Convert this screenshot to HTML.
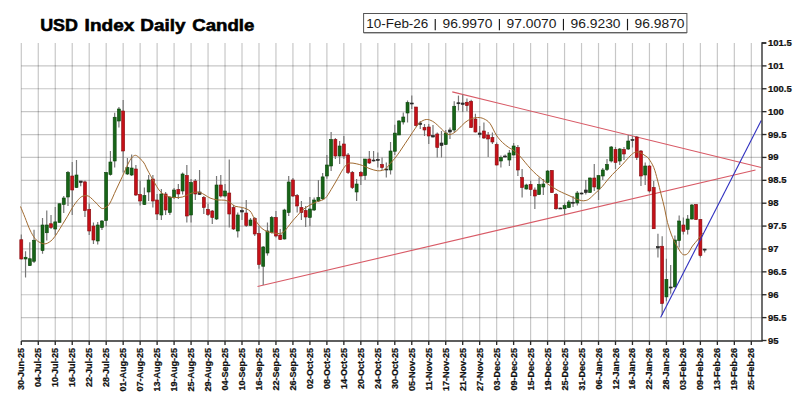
<!DOCTYPE html><html><head><meta charset="utf-8"><style>html,body{margin:0;padding:0;background:#fff;width:800px;height:400px;overflow:hidden}svg{display:block}</style></head><body>
<svg width="800" height="400" viewBox="0 0 800 400">
<rect width="800" height="400" fill="#fff"/>
<g stroke="#000" stroke-opacity="0.22" stroke-width="1.2" fill="none">
<line x1="21.30" y1="43" x2="21.30" y2="340.5"/>
<line x1="38.28" y1="43" x2="38.28" y2="340.5"/>
<line x1="55.25" y1="43" x2="55.25" y2="340.5"/>
<line x1="72.23" y1="43" x2="72.23" y2="340.5"/>
<line x1="89.21" y1="43" x2="89.21" y2="340.5"/>
<line x1="106.19" y1="43" x2="106.19" y2="340.5"/>
<line x1="123.16" y1="43" x2="123.16" y2="340.5"/>
<line x1="140.14" y1="43" x2="140.14" y2="340.5"/>
<line x1="157.12" y1="43" x2="157.12" y2="340.5"/>
<line x1="174.09" y1="43" x2="174.09" y2="340.5"/>
<line x1="191.07" y1="43" x2="191.07" y2="340.5"/>
<line x1="208.05" y1="43" x2="208.05" y2="340.5"/>
<line x1="225.02" y1="43" x2="225.02" y2="340.5"/>
<line x1="242.00" y1="43" x2="242.00" y2="340.5"/>
<line x1="258.98" y1="43" x2="258.98" y2="340.5"/>
<line x1="275.95" y1="43" x2="275.95" y2="340.5"/>
<line x1="292.93" y1="43" x2="292.93" y2="340.5"/>
<line x1="309.91" y1="43" x2="309.91" y2="340.5"/>
<line x1="326.89" y1="43" x2="326.89" y2="340.5"/>
<line x1="343.86" y1="43" x2="343.86" y2="340.5"/>
<line x1="360.84" y1="43" x2="360.84" y2="340.5"/>
<line x1="377.82" y1="43" x2="377.82" y2="340.5"/>
<line x1="394.79" y1="43" x2="394.79" y2="340.5"/>
<line x1="411.77" y1="43" x2="411.77" y2="340.5"/>
<line x1="428.75" y1="43" x2="428.75" y2="340.5"/>
<line x1="445.73" y1="43" x2="445.73" y2="340.5"/>
<line x1="462.70" y1="43" x2="462.70" y2="340.5"/>
<line x1="479.68" y1="43" x2="479.68" y2="340.5"/>
<line x1="496.66" y1="43" x2="496.66" y2="340.5"/>
<line x1="513.63" y1="43" x2="513.63" y2="340.5"/>
<line x1="530.61" y1="43" x2="530.61" y2="340.5"/>
<line x1="547.59" y1="43" x2="547.59" y2="340.5"/>
<line x1="564.56" y1="43" x2="564.56" y2="340.5"/>
<line x1="581.54" y1="43" x2="581.54" y2="340.5"/>
<line x1="598.52" y1="43" x2="598.52" y2="340.5"/>
<line x1="615.50" y1="43" x2="615.50" y2="340.5"/>
<line x1="632.47" y1="43" x2="632.47" y2="340.5"/>
<line x1="649.45" y1="43" x2="649.45" y2="340.5"/>
<line x1="666.43" y1="43" x2="666.43" y2="340.5"/>
<line x1="683.40" y1="43" x2="683.40" y2="340.5"/>
<line x1="700.38" y1="43" x2="700.38" y2="340.5"/>
<line x1="717.36" y1="43" x2="717.36" y2="340.5"/>
<line x1="734.33" y1="43" x2="734.33" y2="340.5"/>
<line x1="751.31" y1="43" x2="751.31" y2="340.5"/>
<line x1="21.30" y1="65.89" x2="762" y2="65.89"/>
<line x1="21.30" y1="88.77" x2="762" y2="88.77"/>
<line x1="21.30" y1="111.66" x2="762" y2="111.66"/>
<line x1="21.30" y1="134.54" x2="762" y2="134.54"/>
<line x1="21.30" y1="157.43" x2="762" y2="157.43"/>
<line x1="21.30" y1="180.31" x2="762" y2="180.31"/>
<line x1="21.30" y1="203.20" x2="762" y2="203.20"/>
<line x1="21.30" y1="226.08" x2="762" y2="226.08"/>
<line x1="21.30" y1="248.97" x2="762" y2="248.97"/>
<line x1="21.30" y1="271.85" x2="762" y2="271.85"/>
<line x1="21.30" y1="294.74" x2="762" y2="294.74"/>
<line x1="21.30" y1="317.62" x2="762" y2="317.62"/>
</g>
<g fill="none" stroke-width="1.1">
<line x1="452.25" y1="91.9" x2="761.25" y2="167.5" stroke="#d85a66"/>
<line x1="257.5" y1="286.5" x2="755.5" y2="170" stroke="#d85a66"/>
</g>
<g>
<line x1="21.30" y1="234.50" x2="21.30" y2="259.50" stroke="#777" stroke-width="1.2"/>
<rect x="19.80" y="239.75" width="3" height="19.25" fill="#c41018" stroke="#860a0e" stroke-width="0.6"/>
<line x1="25.54" y1="251.25" x2="25.54" y2="277.50" stroke="#777" stroke-width="1.2"/>
<rect x="24.04" y="257.25" width="3" height="1.75" fill="#176417" stroke="#0b440b" stroke-width="0.6"/>
<line x1="29.79" y1="242.25" x2="29.79" y2="266.00" stroke="#777" stroke-width="1.2"/>
<rect x="28.29" y="258.75" width="3" height="6.85" fill="#176417" stroke="#0b440b" stroke-width="0.6"/>
<line x1="34.03" y1="229.75" x2="34.03" y2="263.00" stroke="#777" stroke-width="1.2"/>
<rect x="32.53" y="240.25" width="3" height="21.00" fill="#176417" stroke="#0b440b" stroke-width="0.6"/>
<line x1="42.52" y1="218.00" x2="42.52" y2="253.75" stroke="#777" stroke-width="1.2"/>
<rect x="41.02" y="225.00" width="3" height="25.60" fill="#176417" stroke="#0b440b" stroke-width="0.6"/>
<line x1="46.77" y1="210.60" x2="46.77" y2="240.60" stroke="#777" stroke-width="1.2"/>
<rect x="45.27" y="225.00" width="3" height="7.75" fill="#176417" stroke="#0b440b" stroke-width="0.6"/>
<line x1="51.01" y1="215.00" x2="51.01" y2="229.00" stroke="#777" stroke-width="1.2"/>
<rect x="49.51" y="223.75" width="3" height="3.75" fill="#c41018" stroke="#860a0e" stroke-width="0.6"/>
<line x1="55.25" y1="206.90" x2="55.25" y2="235.60" stroke="#777" stroke-width="1.2"/>
<rect x="53.75" y="221.90" width="3" height="7.10" fill="#176417" stroke="#0b440b" stroke-width="0.6"/>
<line x1="59.50" y1="203.50" x2="59.50" y2="222.50" stroke="#777" stroke-width="1.2"/>
<rect x="58.00" y="203.75" width="3" height="18.75" fill="#176417" stroke="#0b440b" stroke-width="0.6"/>
<line x1="63.74" y1="196.00" x2="63.74" y2="213.00" stroke="#777" stroke-width="1.2"/>
<rect x="62.24" y="198.00" width="3" height="6.40" fill="#176417" stroke="#0b440b" stroke-width="0.6"/>
<line x1="67.99" y1="171.00" x2="67.99" y2="206.00" stroke="#777" stroke-width="1.2"/>
<rect x="66.49" y="172.50" width="3" height="24.50" fill="#176417" stroke="#0b440b" stroke-width="0.6"/>
<line x1="72.23" y1="162.00" x2="72.23" y2="215.00" stroke="#777" stroke-width="1.2"/>
<rect x="70.73" y="176.00" width="3" height="14.00" fill="#c41018" stroke="#860a0e" stroke-width="0.6"/>
<line x1="76.48" y1="160.00" x2="76.48" y2="188.00" stroke="#777" stroke-width="1.2"/>
<rect x="74.98" y="175.00" width="3" height="12.50" fill="#176417" stroke="#0b440b" stroke-width="0.6"/>
<line x1="80.72" y1="181.00" x2="80.72" y2="186.25" stroke="#777" stroke-width="1.2"/>
<rect x="79.22" y="181.00" width="3" height="1.50" fill="#333" stroke="#222" stroke-width="0.6"/>
<line x1="84.96" y1="180.60" x2="84.96" y2="216.90" stroke="#777" stroke-width="1.2"/>
<rect x="83.46" y="181.90" width="3" height="28.70" fill="#c41018" stroke="#860a0e" stroke-width="0.6"/>
<line x1="89.21" y1="203.75" x2="89.21" y2="235.00" stroke="#777" stroke-width="1.2"/>
<rect x="87.71" y="209.40" width="3" height="21.60" fill="#c41018" stroke="#860a0e" stroke-width="0.6"/>
<line x1="93.45" y1="222.50" x2="93.45" y2="244.00" stroke="#777" stroke-width="1.2"/>
<rect x="91.95" y="226.00" width="3" height="14.00" fill="#c41018" stroke="#860a0e" stroke-width="0.6"/>
<line x1="97.70" y1="222.00" x2="97.70" y2="244.50" stroke="#777" stroke-width="1.2"/>
<rect x="96.20" y="225.00" width="3" height="16.00" fill="#176417" stroke="#0b440b" stroke-width="0.6"/>
<line x1="101.94" y1="220.00" x2="101.94" y2="230.00" stroke="#777" stroke-width="1.2"/>
<rect x="100.44" y="221.00" width="3" height="6.50" fill="#176417" stroke="#0b440b" stroke-width="0.6"/>
<line x1="106.19" y1="172.00" x2="106.19" y2="226.00" stroke="#777" stroke-width="1.2"/>
<rect x="104.69" y="172.50" width="3" height="48.00" fill="#176417" stroke="#0b440b" stroke-width="0.6"/>
<line x1="110.43" y1="151.00" x2="110.43" y2="175.60" stroke="#777" stroke-width="1.2"/>
<rect x="108.93" y="162.00" width="3" height="12.50" fill="#176417" stroke="#0b440b" stroke-width="0.6"/>
<line x1="114.67" y1="112.75" x2="114.67" y2="167.50" stroke="#777" stroke-width="1.2"/>
<rect x="113.17" y="117.25" width="3" height="43.75" fill="#176417" stroke="#0b440b" stroke-width="0.6"/>
<line x1="118.92" y1="107.00" x2="118.92" y2="127.50" stroke="#777" stroke-width="1.2"/>
<rect x="117.42" y="109.00" width="3" height="12.00" fill="#176417" stroke="#0b440b" stroke-width="0.6"/>
<line x1="123.16" y1="100.00" x2="123.16" y2="172.50" stroke="#777" stroke-width="1.2"/>
<rect x="121.66" y="111.00" width="3" height="40.00" fill="#c41018" stroke="#860a0e" stroke-width="0.6"/>
<line x1="127.41" y1="158.00" x2="127.41" y2="175.00" stroke="#777" stroke-width="1.2"/>
<rect x="125.91" y="167.50" width="3" height="6.50" fill="#176417" stroke="#0b440b" stroke-width="0.6"/>
<line x1="131.65" y1="154.50" x2="131.65" y2="176.00" stroke="#777" stroke-width="1.2"/>
<rect x="130.15" y="168.00" width="3" height="7.00" fill="#176417" stroke="#0b440b" stroke-width="0.6"/>
<line x1="135.89" y1="165.00" x2="135.89" y2="196.00" stroke="#777" stroke-width="1.2"/>
<rect x="134.39" y="169.00" width="3" height="26.00" fill="#c41018" stroke="#860a0e" stroke-width="0.6"/>
<line x1="140.14" y1="181.00" x2="140.14" y2="205.50" stroke="#777" stroke-width="1.2"/>
<rect x="138.64" y="194.50" width="3" height="6.50" fill="#c41018" stroke="#860a0e" stroke-width="0.6"/>
<line x1="144.38" y1="187.50" x2="144.38" y2="205.00" stroke="#777" stroke-width="1.2"/>
<rect x="142.88" y="195.50" width="3" height="9.00" fill="#176417" stroke="#0b440b" stroke-width="0.6"/>
<line x1="148.63" y1="175.00" x2="148.63" y2="201.00" stroke="#777" stroke-width="1.2"/>
<rect x="147.13" y="180.00" width="3" height="12.00" fill="#176417" stroke="#0b440b" stroke-width="0.6"/>
<line x1="152.87" y1="175.00" x2="152.87" y2="207.50" stroke="#777" stroke-width="1.2"/>
<rect x="151.37" y="179.00" width="3" height="22.00" fill="#c41018" stroke="#860a0e" stroke-width="0.6"/>
<line x1="157.12" y1="194.00" x2="157.12" y2="220.00" stroke="#777" stroke-width="1.2"/>
<rect x="155.62" y="200.00" width="3" height="14.00" fill="#c41018" stroke="#860a0e" stroke-width="0.6"/>
<line x1="161.36" y1="189.00" x2="161.36" y2="220.00" stroke="#777" stroke-width="1.2"/>
<rect x="159.86" y="194.00" width="3" height="21.00" fill="#176417" stroke="#0b440b" stroke-width="0.6"/>
<line x1="165.60" y1="192.00" x2="165.60" y2="215.00" stroke="#777" stroke-width="1.2"/>
<rect x="164.10" y="194.00" width="3" height="16.00" fill="#c41018" stroke="#860a0e" stroke-width="0.6"/>
<line x1="169.85" y1="196.00" x2="169.85" y2="215.00" stroke="#777" stroke-width="1.2"/>
<rect x="168.35" y="197.50" width="3" height="15.00" fill="#176417" stroke="#0b440b" stroke-width="0.6"/>
<line x1="174.09" y1="188.00" x2="174.09" y2="199.00" stroke="#777" stroke-width="1.2"/>
<rect x="172.59" y="190.00" width="3" height="7.50" fill="#176417" stroke="#0b440b" stroke-width="0.6"/>
<line x1="178.34" y1="184.00" x2="178.34" y2="199.00" stroke="#777" stroke-width="1.2"/>
<rect x="176.84" y="189.50" width="3" height="4.50" fill="#c41018" stroke="#860a0e" stroke-width="0.6"/>
<line x1="182.58" y1="172.50" x2="182.58" y2="194.50" stroke="#777" stroke-width="1.2"/>
<rect x="181.08" y="174.00" width="3" height="17.00" fill="#176417" stroke="#0b440b" stroke-width="0.6"/>
<line x1="186.83" y1="165.00" x2="186.83" y2="222.50" stroke="#777" stroke-width="1.2"/>
<rect x="185.33" y="175.50" width="3" height="40.50" fill="#c41018" stroke="#860a0e" stroke-width="0.6"/>
<line x1="191.07" y1="179.00" x2="191.07" y2="222.50" stroke="#777" stroke-width="1.2"/>
<rect x="189.57" y="182.50" width="3" height="32.50" fill="#176417" stroke="#0b440b" stroke-width="0.6"/>
<line x1="195.31" y1="179.00" x2="195.31" y2="200.00" stroke="#777" stroke-width="1.2"/>
<rect x="193.81" y="181.00" width="3" height="13.00" fill="#c41018" stroke="#860a0e" stroke-width="0.6"/>
<line x1="199.56" y1="170.00" x2="199.56" y2="195.00" stroke="#777" stroke-width="1.2"/>
<rect x="198.06" y="192.00" width="3" height="2.50" fill="#333" stroke="#222" stroke-width="0.6"/>
<line x1="203.80" y1="196.00" x2="203.80" y2="214.00" stroke="#777" stroke-width="1.2"/>
<rect x="202.30" y="197.50" width="3" height="10.00" fill="#c41018" stroke="#860a0e" stroke-width="0.6"/>
<line x1="208.05" y1="204.00" x2="208.05" y2="216.00" stroke="#777" stroke-width="1.2"/>
<rect x="206.55" y="209.50" width="3" height="5.00" fill="#c41018" stroke="#860a0e" stroke-width="0.6"/>
<line x1="212.29" y1="210.00" x2="212.29" y2="224.00" stroke="#777" stroke-width="1.2"/>
<rect x="210.79" y="211.00" width="3" height="6.50" fill="#c41018" stroke="#860a0e" stroke-width="0.6"/>
<line x1="216.54" y1="176.00" x2="216.54" y2="220.00" stroke="#777" stroke-width="1.2"/>
<rect x="215.04" y="185.00" width="3" height="34.00" fill="#176417" stroke="#0b440b" stroke-width="0.6"/>
<line x1="220.78" y1="175.00" x2="220.78" y2="197.50" stroke="#777" stroke-width="1.2"/>
<rect x="219.28" y="185.00" width="3" height="11.00" fill="#c41018" stroke="#860a0e" stroke-width="0.6"/>
<line x1="225.02" y1="184.00" x2="225.02" y2="197.50" stroke="#777" stroke-width="1.2"/>
<rect x="223.52" y="191.00" width="3" height="5.00" fill="#176417" stroke="#0b440b" stroke-width="0.6"/>
<line x1="229.27" y1="159.50" x2="229.27" y2="227.50" stroke="#777" stroke-width="1.2"/>
<rect x="227.77" y="193.00" width="3" height="21.00" fill="#c41018" stroke="#860a0e" stroke-width="0.6"/>
<line x1="233.51" y1="205.00" x2="233.51" y2="230.00" stroke="#777" stroke-width="1.2"/>
<rect x="232.01" y="207.50" width="3" height="21.50" fill="#c41018" stroke="#860a0e" stroke-width="0.6"/>
<line x1="237.76" y1="212.50" x2="237.76" y2="237.50" stroke="#777" stroke-width="1.2"/>
<rect x="236.26" y="215.00" width="3" height="16.00" fill="#176417" stroke="#0b440b" stroke-width="0.6"/>
<line x1="242.00" y1="207.50" x2="242.00" y2="220.00" stroke="#777" stroke-width="1.2"/>
<rect x="240.50" y="210.50" width="3" height="1.50" fill="#333" stroke="#222" stroke-width="0.6"/>
<line x1="246.25" y1="200.00" x2="246.25" y2="227.00" stroke="#777" stroke-width="1.2"/>
<rect x="244.75" y="213.00" width="3" height="12.50" fill="#c41018" stroke="#860a0e" stroke-width="0.6"/>
<line x1="250.49" y1="218.00" x2="250.49" y2="226.00" stroke="#777" stroke-width="1.2"/>
<rect x="248.99" y="220.00" width="3" height="5.50" fill="#176417" stroke="#0b440b" stroke-width="0.6"/>
<line x1="254.73" y1="217.00" x2="254.73" y2="236.00" stroke="#777" stroke-width="1.2"/>
<rect x="253.23" y="218.50" width="3" height="15.50" fill="#c41018" stroke="#860a0e" stroke-width="0.6"/>
<line x1="258.98" y1="226.00" x2="258.98" y2="268.75" stroke="#777" stroke-width="1.2"/>
<rect x="257.48" y="233.50" width="3" height="30.90" fill="#c41018" stroke="#860a0e" stroke-width="0.6"/>
<line x1="263.22" y1="246.00" x2="263.22" y2="285.00" stroke="#777" stroke-width="1.2"/>
<rect x="261.72" y="247.00" width="3" height="19.25" fill="#176417" stroke="#0b440b" stroke-width="0.6"/>
<line x1="267.47" y1="222.50" x2="267.47" y2="255.60" stroke="#777" stroke-width="1.2"/>
<rect x="265.97" y="231.00" width="3" height="22.00" fill="#176417" stroke="#0b440b" stroke-width="0.6"/>
<line x1="271.71" y1="216.00" x2="271.71" y2="233.50" stroke="#777" stroke-width="1.2"/>
<rect x="270.21" y="217.50" width="3" height="15.00" fill="#176417" stroke="#0b440b" stroke-width="0.6"/>
<line x1="275.95" y1="211.00" x2="275.95" y2="237.50" stroke="#777" stroke-width="1.2"/>
<rect x="274.45" y="217.50" width="3" height="18.50" fill="#c41018" stroke="#860a0e" stroke-width="0.6"/>
<line x1="280.20" y1="229.00" x2="280.20" y2="240.00" stroke="#777" stroke-width="1.2"/>
<rect x="278.70" y="235.00" width="3" height="4.50" fill="#c41018" stroke="#860a0e" stroke-width="0.6"/>
<line x1="284.44" y1="208.75" x2="284.44" y2="239.50" stroke="#777" stroke-width="1.2"/>
<rect x="282.94" y="210.00" width="3" height="29.00" fill="#176417" stroke="#0b440b" stroke-width="0.6"/>
<line x1="288.69" y1="176.00" x2="288.69" y2="216.00" stroke="#777" stroke-width="1.2"/>
<rect x="287.19" y="182.00" width="3" height="30.50" fill="#176417" stroke="#0b440b" stroke-width="0.6"/>
<line x1="292.93" y1="178.00" x2="292.93" y2="197.00" stroke="#777" stroke-width="1.2"/>
<rect x="291.43" y="180.00" width="3" height="16.00" fill="#c41018" stroke="#860a0e" stroke-width="0.6"/>
<line x1="297.18" y1="194.00" x2="297.18" y2="212.50" stroke="#777" stroke-width="1.2"/>
<rect x="295.68" y="195.50" width="3" height="10.50" fill="#c41018" stroke="#860a0e" stroke-width="0.6"/>
<line x1="301.42" y1="201.00" x2="301.42" y2="220.00" stroke="#777" stroke-width="1.2"/>
<rect x="299.92" y="207.50" width="3" height="5.00" fill="#c41018" stroke="#860a0e" stroke-width="0.6"/>
<line x1="305.66" y1="206.00" x2="305.66" y2="227.00" stroke="#777" stroke-width="1.2"/>
<rect x="304.16" y="210.50" width="3" height="6.50" fill="#c41018" stroke="#860a0e" stroke-width="0.6"/>
<line x1="309.91" y1="197.00" x2="309.91" y2="226.00" stroke="#777" stroke-width="1.2"/>
<rect x="308.41" y="209.00" width="3" height="8.50" fill="#176417" stroke="#0b440b" stroke-width="0.6"/>
<line x1="314.15" y1="197.50" x2="314.15" y2="211.00" stroke="#777" stroke-width="1.2"/>
<rect x="312.65" y="200.00" width="3" height="10.00" fill="#176417" stroke="#0b440b" stroke-width="0.6"/>
<line x1="318.40" y1="180.00" x2="318.40" y2="202.00" stroke="#777" stroke-width="1.2"/>
<rect x="316.90" y="197.50" width="3" height="3.50" fill="#176417" stroke="#0b440b" stroke-width="0.6"/>
<line x1="322.64" y1="173.10" x2="322.64" y2="200.00" stroke="#777" stroke-width="1.2"/>
<rect x="321.14" y="176.90" width="3" height="21.85" fill="#176417" stroke="#0b440b" stroke-width="0.6"/>
<line x1="326.89" y1="155.00" x2="326.89" y2="178.75" stroke="#777" stroke-width="1.2"/>
<rect x="325.39" y="165.00" width="3" height="11.00" fill="#176417" stroke="#0b440b" stroke-width="0.6"/>
<line x1="331.13" y1="132.00" x2="331.13" y2="171.00" stroke="#777" stroke-width="1.2"/>
<rect x="329.63" y="139.50" width="3" height="26.50" fill="#176417" stroke="#0b440b" stroke-width="0.6"/>
<line x1="335.37" y1="138.00" x2="335.37" y2="159.00" stroke="#777" stroke-width="1.2"/>
<rect x="333.87" y="139.50" width="3" height="16.50" fill="#c41018" stroke="#860a0e" stroke-width="0.6"/>
<line x1="339.62" y1="141.00" x2="339.62" y2="164.00" stroke="#777" stroke-width="1.2"/>
<rect x="338.12" y="146.00" width="3" height="10.00" fill="#176417" stroke="#0b440b" stroke-width="0.6"/>
<line x1="343.86" y1="136.00" x2="343.86" y2="159.00" stroke="#777" stroke-width="1.2"/>
<rect x="342.36" y="144.00" width="3" height="12.00" fill="#c41018" stroke="#860a0e" stroke-width="0.6"/>
<line x1="348.11" y1="153.00" x2="348.11" y2="174.00" stroke="#777" stroke-width="1.2"/>
<rect x="346.61" y="155.00" width="3" height="17.50" fill="#c41018" stroke="#860a0e" stroke-width="0.6"/>
<line x1="352.35" y1="171.00" x2="352.35" y2="189.00" stroke="#777" stroke-width="1.2"/>
<rect x="350.85" y="172.50" width="3" height="15.00" fill="#c41018" stroke="#860a0e" stroke-width="0.6"/>
<line x1="356.60" y1="179.00" x2="356.60" y2="201.00" stroke="#777" stroke-width="1.2"/>
<rect x="355.10" y="184.00" width="3" height="8.00" fill="#176417" stroke="#0b440b" stroke-width="0.6"/>
<line x1="360.84" y1="171.00" x2="360.84" y2="185.00" stroke="#777" stroke-width="1.2"/>
<rect x="359.34" y="172.50" width="3" height="3.50" fill="#c41018" stroke="#860a0e" stroke-width="0.6"/>
<line x1="365.08" y1="159.00" x2="365.08" y2="180.00" stroke="#777" stroke-width="1.2"/>
<rect x="363.58" y="159.00" width="3" height="16.50" fill="#176417" stroke="#0b440b" stroke-width="0.6"/>
<line x1="369.33" y1="151.00" x2="369.33" y2="164.00" stroke="#777" stroke-width="1.2"/>
<rect x="367.83" y="159.00" width="3" height="4.00" fill="#c41018" stroke="#860a0e" stroke-width="0.6"/>
<line x1="373.57" y1="151.00" x2="373.57" y2="161.50" stroke="#777" stroke-width="1.2"/>
<rect x="372.07" y="160.00" width="3" height="1.00" fill="#333" stroke="#222" stroke-width="0.6"/>
<line x1="377.82" y1="152.50" x2="377.82" y2="167.50" stroke="#777" stroke-width="1.2"/>
<rect x="376.32" y="159.50" width="3" height="1.00" fill="#333" stroke="#222" stroke-width="0.6"/>
<line x1="382.06" y1="157.50" x2="382.06" y2="170.00" stroke="#777" stroke-width="1.2"/>
<rect x="380.56" y="164.50" width="3" height="3.00" fill="#c41018" stroke="#860a0e" stroke-width="0.6"/>
<line x1="386.31" y1="162.50" x2="386.31" y2="177.50" stroke="#777" stroke-width="1.2"/>
<rect x="384.81" y="169.00" width="3" height="1.00" fill="#333" stroke="#222" stroke-width="0.6"/>
<line x1="390.55" y1="142.00" x2="390.55" y2="174.50" stroke="#777" stroke-width="1.2"/>
<rect x="389.05" y="151.00" width="3" height="19.00" fill="#176417" stroke="#0b440b" stroke-width="0.6"/>
<line x1="394.79" y1="124.75" x2="394.79" y2="155.00" stroke="#777" stroke-width="1.2"/>
<rect x="393.29" y="133.10" width="3" height="18.15" fill="#176417" stroke="#0b440b" stroke-width="0.6"/>
<line x1="399.04" y1="120.00" x2="399.04" y2="135.00" stroke="#777" stroke-width="1.2"/>
<rect x="397.54" y="121.00" width="3" height="14.00" fill="#176417" stroke="#0b440b" stroke-width="0.6"/>
<line x1="403.28" y1="112.50" x2="403.28" y2="124.50" stroke="#777" stroke-width="1.2"/>
<rect x="401.78" y="117.00" width="3" height="5.00" fill="#176417" stroke="#0b440b" stroke-width="0.6"/>
<line x1="407.53" y1="100.50" x2="407.53" y2="122.50" stroke="#777" stroke-width="1.2"/>
<rect x="406.03" y="102.50" width="3" height="10.50" fill="#176417" stroke="#0b440b" stroke-width="0.6"/>
<line x1="411.77" y1="95.50" x2="411.77" y2="109.00" stroke="#777" stroke-width="1.2"/>
<rect x="410.27" y="103.00" width="3" height="1.00" fill="#333" stroke="#222" stroke-width="0.6"/>
<line x1="416.02" y1="107.00" x2="416.02" y2="126.50" stroke="#777" stroke-width="1.2"/>
<rect x="414.52" y="107.00" width="3" height="18.50" fill="#c41018" stroke="#860a0e" stroke-width="0.6"/>
<line x1="420.26" y1="121.00" x2="420.26" y2="129.00" stroke="#777" stroke-width="1.2"/>
<rect x="418.76" y="123.00" width="3" height="1.50" fill="#333" stroke="#222" stroke-width="0.6"/>
<line x1="424.50" y1="124.00" x2="424.50" y2="136.00" stroke="#777" stroke-width="1.2"/>
<rect x="423.00" y="127.50" width="3" height="2.50" fill="#c41018" stroke="#860a0e" stroke-width="0.6"/>
<line x1="428.75" y1="124.00" x2="428.75" y2="144.00" stroke="#777" stroke-width="1.2"/>
<rect x="427.25" y="127.00" width="3" height="9.00" fill="#c41018" stroke="#860a0e" stroke-width="0.6"/>
<line x1="432.99" y1="125.00" x2="432.99" y2="137.50" stroke="#777" stroke-width="1.2"/>
<rect x="431.49" y="135.50" width="3" height="1.50" fill="#333" stroke="#222" stroke-width="0.6"/>
<line x1="437.24" y1="132.50" x2="437.24" y2="157.50" stroke="#777" stroke-width="1.2"/>
<rect x="435.74" y="134.00" width="3" height="13.50" fill="#c41018" stroke="#860a0e" stroke-width="0.6"/>
<line x1="441.48" y1="131.00" x2="441.48" y2="157.50" stroke="#777" stroke-width="1.2"/>
<rect x="439.98" y="143.00" width="3" height="2.50" fill="#333" stroke="#222" stroke-width="0.6"/>
<line x1="445.73" y1="130.00" x2="445.73" y2="145.00" stroke="#777" stroke-width="1.2"/>
<rect x="444.23" y="133.00" width="3" height="11.50" fill="#176417" stroke="#0b440b" stroke-width="0.6"/>
<line x1="449.97" y1="127.50" x2="449.97" y2="139.00" stroke="#777" stroke-width="1.2"/>
<rect x="448.47" y="130.00" width="3" height="2.00" fill="#333" stroke="#222" stroke-width="0.6"/>
<line x1="454.21" y1="101.25" x2="454.21" y2="132.50" stroke="#777" stroke-width="1.2"/>
<rect x="452.71" y="106.25" width="3" height="23.75" fill="#176417" stroke="#0b440b" stroke-width="0.6"/>
<line x1="458.46" y1="95.60" x2="458.46" y2="110.60" stroke="#777" stroke-width="1.2"/>
<rect x="456.96" y="102.75" width="3" height="1.00" fill="#333" stroke="#222" stroke-width="0.6"/>
<line x1="462.70" y1="94.40" x2="462.70" y2="111.90" stroke="#777" stroke-width="1.2"/>
<rect x="461.20" y="103.00" width="3" height="1.40" fill="#333" stroke="#222" stroke-width="0.6"/>
<line x1="466.95" y1="98.50" x2="466.95" y2="111.25" stroke="#777" stroke-width="1.2"/>
<rect x="465.45" y="102.25" width="3" height="3.35" fill="#c41018" stroke="#860a0e" stroke-width="0.6"/>
<line x1="471.19" y1="99.75" x2="471.19" y2="128.00" stroke="#777" stroke-width="1.2"/>
<rect x="469.69" y="101.25" width="3" height="26.25" fill="#c41018" stroke="#860a0e" stroke-width="0.6"/>
<line x1="475.43" y1="113.75" x2="475.43" y2="132.50" stroke="#777" stroke-width="1.2"/>
<rect x="473.93" y="119.00" width="3" height="13.00" fill="#c41018" stroke="#860a0e" stroke-width="0.6"/>
<line x1="479.68" y1="126.00" x2="479.68" y2="137.50" stroke="#777" stroke-width="1.2"/>
<rect x="478.18" y="133.00" width="3" height="1.50" fill="#333" stroke="#222" stroke-width="0.6"/>
<line x1="483.92" y1="122.50" x2="483.92" y2="139.00" stroke="#777" stroke-width="1.2"/>
<rect x="482.42" y="131.00" width="3" height="7.00" fill="#c41018" stroke="#860a0e" stroke-width="0.6"/>
<line x1="488.17" y1="132.00" x2="488.17" y2="157.00" stroke="#777" stroke-width="1.2"/>
<rect x="486.67" y="135.00" width="3" height="4.00" fill="#c41018" stroke="#860a0e" stroke-width="0.6"/>
<line x1="492.41" y1="132.50" x2="492.41" y2="144.00" stroke="#777" stroke-width="1.2"/>
<rect x="490.91" y="137.50" width="3" height="4.50" fill="#c41018" stroke="#860a0e" stroke-width="0.6"/>
<line x1="496.66" y1="142.50" x2="496.66" y2="165.50" stroke="#777" stroke-width="1.2"/>
<rect x="495.16" y="144.50" width="3" height="20.50" fill="#c41018" stroke="#860a0e" stroke-width="0.6"/>
<line x1="500.90" y1="155.50" x2="500.90" y2="167.50" stroke="#777" stroke-width="1.2"/>
<rect x="499.40" y="157.50" width="3" height="3.50" fill="#176417" stroke="#0b440b" stroke-width="0.6"/>
<line x1="505.14" y1="154.50" x2="505.14" y2="157.50" stroke="#777" stroke-width="1.2"/>
<rect x="503.64" y="156.00" width="3" height="1.00" fill="#333" stroke="#222" stroke-width="0.6"/>
<line x1="509.39" y1="150.00" x2="509.39" y2="166.00" stroke="#777" stroke-width="1.2"/>
<rect x="507.89" y="153.00" width="3" height="7.00" fill="#176417" stroke="#0b440b" stroke-width="0.6"/>
<line x1="513.63" y1="143.00" x2="513.63" y2="155.50" stroke="#777" stroke-width="1.2"/>
<rect x="512.13" y="146.00" width="3" height="9.00" fill="#176417" stroke="#0b440b" stroke-width="0.6"/>
<line x1="517.88" y1="145.00" x2="517.88" y2="176.00" stroke="#777" stroke-width="1.2"/>
<rect x="516.38" y="147.50" width="3" height="22.50" fill="#c41018" stroke="#860a0e" stroke-width="0.6"/>
<line x1="522.12" y1="169.00" x2="522.12" y2="197.50" stroke="#777" stroke-width="1.2"/>
<rect x="520.62" y="177.50" width="3" height="10.00" fill="#c41018" stroke="#860a0e" stroke-width="0.6"/>
<line x1="526.37" y1="183.75" x2="526.37" y2="189.50" stroke="#777" stroke-width="1.2"/>
<rect x="524.87" y="185.00" width="3" height="4.00" fill="#176417" stroke="#0b440b" stroke-width="0.6"/>
<line x1="530.61" y1="181.00" x2="530.61" y2="196.00" stroke="#777" stroke-width="1.2"/>
<rect x="529.11" y="184.50" width="3" height="5.00" fill="#c41018" stroke="#860a0e" stroke-width="0.6"/>
<line x1="534.85" y1="187.50" x2="534.85" y2="209.00" stroke="#777" stroke-width="1.2"/>
<rect x="533.35" y="190.00" width="3" height="6.00" fill="#c41018" stroke="#860a0e" stroke-width="0.6"/>
<line x1="539.10" y1="177.50" x2="539.10" y2="195.00" stroke="#777" stroke-width="1.2"/>
<rect x="537.60" y="184.50" width="3" height="10.00" fill="#176417" stroke="#0b440b" stroke-width="0.6"/>
<line x1="543.34" y1="179.00" x2="543.34" y2="195.00" stroke="#777" stroke-width="1.2"/>
<rect x="541.84" y="184.00" width="3" height="3.00" fill="#176417" stroke="#0b440b" stroke-width="0.6"/>
<line x1="547.59" y1="170.00" x2="547.59" y2="183.00" stroke="#777" stroke-width="1.2"/>
<rect x="546.09" y="171.00" width="3" height="11.50" fill="#176417" stroke="#0b440b" stroke-width="0.6"/>
<line x1="551.83" y1="170.00" x2="551.83" y2="193.00" stroke="#777" stroke-width="1.2"/>
<rect x="550.33" y="170.50" width="3" height="22.00" fill="#c41018" stroke="#860a0e" stroke-width="0.6"/>
<line x1="556.08" y1="193.00" x2="556.08" y2="209.75" stroke="#777" stroke-width="1.2"/>
<rect x="554.58" y="194.40" width="3" height="14.35" fill="#c41018" stroke="#860a0e" stroke-width="0.6"/>
<line x1="560.32" y1="207.50" x2="560.32" y2="209.00" stroke="#777" stroke-width="1.2"/>
<rect x="558.82" y="208.00" width="3" height="1.00" fill="#333" stroke="#222" stroke-width="0.6"/>
<line x1="564.56" y1="203.50" x2="564.56" y2="214.40" stroke="#777" stroke-width="1.2"/>
<rect x="563.06" y="205.60" width="3" height="3.15" fill="#176417" stroke="#0b440b" stroke-width="0.6"/>
<line x1="568.81" y1="200.00" x2="568.81" y2="208.00" stroke="#777" stroke-width="1.2"/>
<rect x="567.31" y="202.00" width="3" height="5.50" fill="#176417" stroke="#0b440b" stroke-width="0.6"/>
<line x1="573.05" y1="196.00" x2="573.05" y2="207.00" stroke="#777" stroke-width="1.2"/>
<rect x="571.55" y="202.25" width="3" height="1.00" fill="#333" stroke="#222" stroke-width="0.6"/>
<line x1="577.30" y1="191.00" x2="577.30" y2="205.60" stroke="#777" stroke-width="1.2"/>
<rect x="575.80" y="193.00" width="3" height="10.00" fill="#176417" stroke="#0b440b" stroke-width="0.6"/>
<line x1="581.54" y1="192.50" x2="581.54" y2="194.50" stroke="#777" stroke-width="1.2"/>
<rect x="580.04" y="193.00" width="3" height="1.00" fill="#333" stroke="#222" stroke-width="0.6"/>
<line x1="585.79" y1="180.00" x2="585.79" y2="194.40" stroke="#777" stroke-width="1.2"/>
<rect x="584.29" y="190.00" width="3" height="2.50" fill="#333" stroke="#222" stroke-width="0.6"/>
<line x1="590.03" y1="177.50" x2="590.03" y2="193.00" stroke="#777" stroke-width="1.2"/>
<rect x="588.53" y="178.00" width="3" height="14.50" fill="#176417" stroke="#0b440b" stroke-width="0.6"/>
<line x1="594.27" y1="164.00" x2="594.27" y2="191.00" stroke="#777" stroke-width="1.2"/>
<rect x="592.77" y="178.00" width="3" height="9.00" fill="#c41018" stroke="#860a0e" stroke-width="0.6"/>
<line x1="598.52" y1="175.00" x2="598.52" y2="200.00" stroke="#777" stroke-width="1.2"/>
<rect x="597.02" y="175.60" width="3" height="13.40" fill="#176417" stroke="#0b440b" stroke-width="0.6"/>
<line x1="602.76" y1="168.00" x2="602.76" y2="180.00" stroke="#777" stroke-width="1.2"/>
<rect x="601.26" y="170.00" width="3" height="6.00" fill="#176417" stroke="#0b440b" stroke-width="0.6"/>
<line x1="607.01" y1="159.00" x2="607.01" y2="171.00" stroke="#777" stroke-width="1.2"/>
<rect x="605.51" y="164.50" width="3" height="5.00" fill="#176417" stroke="#0b440b" stroke-width="0.6"/>
<line x1="611.25" y1="146.00" x2="611.25" y2="162.50" stroke="#777" stroke-width="1.2"/>
<rect x="609.75" y="147.00" width="3" height="14.00" fill="#176417" stroke="#0b440b" stroke-width="0.6"/>
<line x1="615.50" y1="147.00" x2="615.50" y2="169.00" stroke="#777" stroke-width="1.2"/>
<rect x="614.00" y="149.50" width="3" height="13.00" fill="#c41018" stroke="#860a0e" stroke-width="0.6"/>
<line x1="619.74" y1="148.00" x2="619.74" y2="165.00" stroke="#777" stroke-width="1.2"/>
<rect x="618.24" y="149.00" width="3" height="12.00" fill="#176417" stroke="#0b440b" stroke-width="0.6"/>
<line x1="623.98" y1="147.00" x2="623.98" y2="160.00" stroke="#777" stroke-width="1.2"/>
<rect x="622.48" y="149.50" width="3" height="4.50" fill="#c41018" stroke="#860a0e" stroke-width="0.6"/>
<line x1="628.23" y1="135.00" x2="628.23" y2="150.00" stroke="#777" stroke-width="1.2"/>
<rect x="626.73" y="141.00" width="3" height="8.00" fill="#176417" stroke="#0b440b" stroke-width="0.6"/>
<line x1="632.47" y1="136.00" x2="632.47" y2="147.50" stroke="#777" stroke-width="1.2"/>
<rect x="630.97" y="139.50" width="3" height="1.00" fill="#333" stroke="#222" stroke-width="0.6"/>
<line x1="636.72" y1="136.00" x2="636.72" y2="160.00" stroke="#777" stroke-width="1.2"/>
<rect x="635.22" y="137.00" width="3" height="20.50" fill="#c41018" stroke="#860a0e" stroke-width="0.6"/>
<line x1="640.96" y1="150.00" x2="640.96" y2="186.00" stroke="#777" stroke-width="1.2"/>
<rect x="639.46" y="151.00" width="3" height="25.00" fill="#c41018" stroke="#860a0e" stroke-width="0.6"/>
<line x1="645.20" y1="162.50" x2="645.20" y2="185.00" stroke="#777" stroke-width="1.2"/>
<rect x="643.70" y="166.00" width="3" height="9.00" fill="#176417" stroke="#0b440b" stroke-width="0.6"/>
<line x1="649.45" y1="165.00" x2="649.45" y2="192.50" stroke="#777" stroke-width="1.2"/>
<rect x="647.95" y="166.00" width="3" height="25.00" fill="#c41018" stroke="#860a0e" stroke-width="0.6"/>
<line x1="653.69" y1="181.00" x2="653.69" y2="229.00" stroke="#777" stroke-width="1.2"/>
<rect x="652.19" y="187.50" width="3" height="41.25" fill="#c41018" stroke="#860a0e" stroke-width="0.6"/>
<line x1="657.94" y1="233.75" x2="657.94" y2="257.50" stroke="#777" stroke-width="1.2"/>
<rect x="656.44" y="246.50" width="3" height="1.50" fill="#333" stroke="#222" stroke-width="0.6"/>
<line x1="662.18" y1="236.25" x2="662.18" y2="315.00" stroke="#777" stroke-width="1.2"/>
<rect x="660.68" y="246.25" width="3" height="57.25" fill="#c41018" stroke="#860a0e" stroke-width="0.6"/>
<line x1="666.43" y1="258.75" x2="666.43" y2="301.25" stroke="#777" stroke-width="1.2"/>
<rect x="664.93" y="279.40" width="3" height="17.50" fill="#176417" stroke="#0b440b" stroke-width="0.6"/>
<line x1="670.67" y1="265.00" x2="670.67" y2="293.75" stroke="#777" stroke-width="1.2"/>
<rect x="669.17" y="287.00" width="3" height="1.00" fill="#333" stroke="#222" stroke-width="0.6"/>
<line x1="674.91" y1="235.60" x2="674.91" y2="287.50" stroke="#777" stroke-width="1.2"/>
<rect x="673.41" y="240.00" width="3" height="46.90" fill="#176417" stroke="#0b440b" stroke-width="0.6"/>
<line x1="679.16" y1="215.50" x2="679.16" y2="247.50" stroke="#777" stroke-width="1.2"/>
<rect x="677.66" y="221.00" width="3" height="19.60" fill="#176417" stroke="#0b440b" stroke-width="0.6"/>
<line x1="683.40" y1="217.50" x2="683.40" y2="234.40" stroke="#777" stroke-width="1.2"/>
<rect x="681.90" y="225.00" width="3" height="6.25" fill="#c41018" stroke="#860a0e" stroke-width="0.6"/>
<line x1="687.65" y1="215.00" x2="687.65" y2="234.40" stroke="#777" stroke-width="1.2"/>
<rect x="686.15" y="219.00" width="3" height="10.40" fill="#176417" stroke="#0b440b" stroke-width="0.6"/>
<line x1="691.89" y1="204.00" x2="691.89" y2="219.50" stroke="#777" stroke-width="1.2"/>
<rect x="690.39" y="205.00" width="3" height="14.00" fill="#176417" stroke="#0b440b" stroke-width="0.6"/>
<line x1="696.14" y1="204.00" x2="696.14" y2="220.00" stroke="#777" stroke-width="1.2"/>
<rect x="694.64" y="204.50" width="3" height="15.00" fill="#c41018" stroke="#860a0e" stroke-width="0.6"/>
<line x1="700.38" y1="219.00" x2="700.38" y2="257.50" stroke="#777" stroke-width="1.2"/>
<rect x="698.88" y="219.50" width="3" height="36.00" fill="#c41018" stroke="#860a0e" stroke-width="0.6"/>
<line x1="704.62" y1="248.65" x2="704.62" y2="252.50" stroke="#777" stroke-width="1.2"/>
<rect x="703.12" y="249.10" width="3" height="1.00" fill="#333" stroke="#222" stroke-width="0.6"/>
</g>
<path d="M20.50,206.50 C21.25,208.33 23.42,213.58 25.00,217.50 C26.58,221.42 28.33,226.50 30.00,230.00 C31.67,233.50 33.33,236.42 35.00,238.50 C36.67,240.58 38.17,241.62 40.00,242.50 C41.83,243.38 43.92,244.25 46.00,243.75 C48.08,243.25 50.58,241.38 52.50,239.50 C54.42,237.62 55.83,235.02 57.50,232.50 C59.17,229.98 60.83,227.11 62.50,224.40 C64.17,221.69 65.83,219.07 67.50,216.25 C69.17,213.43 70.83,210.11 72.50,207.50 C74.17,204.89 76.04,202.37 77.50,200.60 C78.96,198.83 80.00,197.73 81.25,196.90 C82.50,196.07 83.75,195.71 85.00,195.60 C86.25,195.49 87.50,195.62 88.75,196.25 C90.00,196.88 91.25,198.26 92.50,199.40 C93.75,200.54 94.75,201.62 96.25,203.10 C97.75,204.58 99.88,207.60 101.50,208.30 C103.12,209.00 104.58,208.18 106.00,207.30 C107.42,206.42 108.33,205.88 110.00,203.00 C111.67,200.12 113.92,194.46 116.00,190.00 C118.08,185.54 120.50,180.58 122.50,176.25 C124.50,171.92 126.50,167.04 128.00,164.00 C129.50,160.96 130.25,159.45 131.50,158.00 C132.75,156.55 134.08,155.22 135.50,155.30 C136.92,155.38 138.58,157.22 140.00,158.50 C141.42,159.78 142.75,161.08 144.00,163.00 C145.25,164.92 145.88,166.96 147.50,170.00 C149.12,173.04 151.67,177.71 153.75,181.25 C155.83,184.79 157.71,188.75 160.00,191.25 C162.29,193.75 165.00,195.21 167.50,196.25 C170.00,197.29 172.50,197.38 175.00,197.50 C177.50,197.62 180.00,197.62 182.50,197.00 C185.00,196.38 187.92,194.55 190.00,193.75 C192.08,192.95 193.33,192.41 195.00,192.20 C196.67,191.99 198.33,192.03 200.00,192.50 C201.67,192.97 203.33,194.08 205.00,195.00 C206.67,195.92 207.92,197.17 210.00,198.00 C212.08,198.83 215.00,199.63 217.50,200.00 C220.00,200.37 222.92,199.78 225.00,200.20 C227.08,200.62 228.33,201.49 230.00,202.50 C231.67,203.51 232.92,205.42 235.00,206.25 C237.08,207.08 240.00,206.71 242.50,207.50 C245.00,208.29 248.08,209.25 250.00,211.00 C251.92,212.75 252.67,215.83 254.00,218.00 C255.33,220.17 256.67,222.25 258.00,224.00 C259.33,225.75 260.50,227.25 262.00,228.50 C263.50,229.75 265.25,230.78 267.00,231.50 C268.75,232.22 270.67,232.47 272.50,232.80 C274.33,233.13 276.25,233.55 278.00,233.50 C279.75,233.45 281.42,233.50 283.00,232.50 C284.58,231.50 285.92,229.42 287.50,227.50 C289.08,225.58 290.83,223.00 292.50,221.00 C294.17,219.00 295.83,217.33 297.50,215.50 C299.17,213.67 300.42,211.75 302.50,210.00 C304.58,208.25 307.50,206.42 310.00,205.00 C312.50,203.58 315.00,202.58 317.50,201.50 C320.00,200.42 322.71,200.52 325.00,198.50 C327.29,196.48 329.17,192.69 331.25,189.40 C333.33,186.11 335.62,181.98 337.50,178.75 C339.38,175.52 341.04,172.29 342.50,170.00 C343.96,167.71 345.00,166.17 346.25,165.00 C347.50,163.83 348.33,163.21 350.00,163.00 C351.67,162.79 354.17,163.33 356.25,163.75 C358.33,164.17 360.21,164.67 362.50,165.50 C364.79,166.33 367.50,167.88 370.00,168.75 C372.50,169.62 375.21,170.54 377.50,170.75 C379.79,170.96 382.17,170.54 383.75,170.00 C385.33,169.46 385.96,168.54 387.00,167.50 C388.04,166.46 388.67,165.32 390.00,163.75 C391.33,162.18 393.33,160.18 395.00,158.10 C396.67,156.02 398.33,153.64 400.00,151.25 C401.67,148.86 403.33,146.25 405.00,143.75 C406.67,141.25 408.33,138.75 410.00,136.25 C411.67,133.75 413.33,131.04 415.00,128.75 C416.67,126.46 418.12,124.04 420.00,122.50 C421.88,120.96 424.17,119.71 426.25,119.50 C428.33,119.29 430.42,120.12 432.50,121.25 C434.58,122.38 436.88,124.58 438.75,126.25 C440.62,127.92 442.08,129.88 443.75,131.25 C445.42,132.62 447.08,134.21 448.75,134.50 C450.42,134.79 452.08,133.96 453.75,133.00 C455.42,132.04 456.88,130.50 458.75,128.75 C460.62,127.00 462.92,124.17 465.00,122.50 C467.08,120.83 469.17,119.58 471.25,118.75 C473.33,117.92 475.42,117.50 477.50,117.50 C479.58,117.50 481.67,117.75 483.75,118.75 C485.83,119.75 487.92,120.79 490.00,123.50 C492.08,126.21 494.17,131.83 496.25,135.00 C498.33,138.17 500.42,140.42 502.50,142.50 C504.58,144.58 507.00,146.25 508.75,147.50 C510.50,148.75 511.23,148.65 513.00,150.00 C514.77,151.35 517.40,153.57 519.40,155.60 C521.40,157.63 523.13,160.01 525.00,162.20 C526.87,164.39 528.72,166.72 530.60,168.75 C532.48,170.78 534.42,172.69 536.30,174.40 C538.18,176.11 540.03,177.44 541.90,179.00 C543.77,180.56 545.62,182.33 547.50,183.75 C549.38,185.17 551.32,186.31 553.20,187.50 C555.08,188.69 556.93,189.90 558.80,190.90 C560.67,191.90 562.53,192.65 564.40,193.50 C566.27,194.35 568.12,195.12 570.00,196.00 C571.88,196.88 573.82,197.98 575.70,198.75 C577.58,199.52 579.75,200.29 581.30,200.60 C582.85,200.91 583.75,200.83 585.00,200.60 C586.25,200.37 587.23,200.28 588.80,199.20 C590.37,198.12 592.74,195.63 594.40,194.10 C596.06,192.57 597.40,191.31 598.75,190.00 C600.10,188.69 601.04,187.92 602.50,186.25 C603.96,184.58 605.83,181.97 607.50,180.00 C609.17,178.03 610.83,176.17 612.50,174.40 C614.17,172.63 615.83,171.07 617.50,169.40 C619.17,167.73 620.83,166.18 622.50,164.40 C624.17,162.62 625.83,160.53 627.50,158.75 C629.17,156.97 631.04,154.88 632.50,153.75 C633.96,152.62 635.00,152.21 636.25,152.00 C637.50,151.79 638.54,151.90 640.00,152.50 C641.46,153.10 643.54,154.56 645.00,155.60 C646.46,156.64 647.29,156.77 648.75,158.75 C650.21,160.73 652.29,163.96 653.75,167.50 C655.21,171.04 656.25,175.42 657.50,180.00 C658.75,184.58 660.08,190.33 661.25,195.00 C662.42,199.67 663.46,203.42 664.50,208.00 C665.54,212.58 666.17,217.58 667.50,222.50 C668.83,227.42 670.83,233.43 672.50,237.50 C674.17,241.57 675.83,244.12 677.50,246.90 C679.17,249.68 680.83,253.06 682.50,254.20 C684.17,255.34 685.83,255.12 687.50,253.75 C689.17,252.38 690.83,248.29 692.50,246.00 C694.17,243.71 696.25,241.58 697.50,240.00 C698.75,238.42 699.07,237.67 700.00,236.50 C700.93,235.33 702.58,233.58 703.10,233.00" fill="none" stroke="#a06a30" stroke-width="1.0"/>
<line x1="660.6" y1="317.5" x2="761.25" y2="120.5" stroke="#3030c0" stroke-width="1.1"/>
<g stroke="#2a2a2a" stroke-width="1.35" fill="none">
<path d="M766,43 H762 V341 H21.3"/>
<line x1="762" y1="43.00" x2="766.5" y2="43.00"/>
<line x1="762" y1="65.89" x2="766.5" y2="65.89"/>
<line x1="762" y1="88.77" x2="766.5" y2="88.77"/>
<line x1="762" y1="111.66" x2="766.5" y2="111.66"/>
<line x1="762" y1="134.54" x2="766.5" y2="134.54"/>
<line x1="762" y1="157.43" x2="766.5" y2="157.43"/>
<line x1="762" y1="180.31" x2="766.5" y2="180.31"/>
<line x1="762" y1="203.20" x2="766.5" y2="203.20"/>
<line x1="762" y1="226.08" x2="766.5" y2="226.08"/>
<line x1="762" y1="248.97" x2="766.5" y2="248.97"/>
<line x1="762" y1="271.85" x2="766.5" y2="271.85"/>
<line x1="762" y1="294.74" x2="766.5" y2="294.74"/>
<line x1="762" y1="317.62" x2="766.5" y2="317.62"/>
<line x1="762" y1="340.50" x2="766.5" y2="340.50"/>
<line x1="21.30" y1="341" x2="21.30" y2="345"/>
<line x1="38.28" y1="341" x2="38.28" y2="345"/>
<line x1="55.25" y1="341" x2="55.25" y2="345"/>
<line x1="72.23" y1="341" x2="72.23" y2="345"/>
<line x1="89.21" y1="341" x2="89.21" y2="345"/>
<line x1="106.19" y1="341" x2="106.19" y2="345"/>
<line x1="123.16" y1="341" x2="123.16" y2="345"/>
<line x1="140.14" y1="341" x2="140.14" y2="345"/>
<line x1="157.12" y1="341" x2="157.12" y2="345"/>
<line x1="174.09" y1="341" x2="174.09" y2="345"/>
<line x1="191.07" y1="341" x2="191.07" y2="345"/>
<line x1="208.05" y1="341" x2="208.05" y2="345"/>
<line x1="225.02" y1="341" x2="225.02" y2="345"/>
<line x1="242.00" y1="341" x2="242.00" y2="345"/>
<line x1="258.98" y1="341" x2="258.98" y2="345"/>
<line x1="275.95" y1="341" x2="275.95" y2="345"/>
<line x1="292.93" y1="341" x2="292.93" y2="345"/>
<line x1="309.91" y1="341" x2="309.91" y2="345"/>
<line x1="326.89" y1="341" x2="326.89" y2="345"/>
<line x1="343.86" y1="341" x2="343.86" y2="345"/>
<line x1="360.84" y1="341" x2="360.84" y2="345"/>
<line x1="377.82" y1="341" x2="377.82" y2="345"/>
<line x1="394.79" y1="341" x2="394.79" y2="345"/>
<line x1="411.77" y1="341" x2="411.77" y2="345"/>
<line x1="428.75" y1="341" x2="428.75" y2="345"/>
<line x1="445.73" y1="341" x2="445.73" y2="345"/>
<line x1="462.70" y1="341" x2="462.70" y2="345"/>
<line x1="479.68" y1="341" x2="479.68" y2="345"/>
<line x1="496.66" y1="341" x2="496.66" y2="345"/>
<line x1="513.63" y1="341" x2="513.63" y2="345"/>
<line x1="530.61" y1="341" x2="530.61" y2="345"/>
<line x1="547.59" y1="341" x2="547.59" y2="345"/>
<line x1="564.56" y1="341" x2="564.56" y2="345"/>
<line x1="581.54" y1="341" x2="581.54" y2="345"/>
<line x1="598.52" y1="341" x2="598.52" y2="345"/>
<line x1="615.50" y1="341" x2="615.50" y2="345"/>
<line x1="632.47" y1="341" x2="632.47" y2="345"/>
<line x1="649.45" y1="341" x2="649.45" y2="345"/>
<line x1="666.43" y1="341" x2="666.43" y2="345"/>
<line x1="683.40" y1="341" x2="683.40" y2="345"/>
<line x1="700.38" y1="341" x2="700.38" y2="345"/>
<line x1="717.36" y1="341" x2="717.36" y2="345"/>
<line x1="734.33" y1="341" x2="734.33" y2="345"/>
<line x1="751.31" y1="341" x2="751.31" y2="345"/>
</g>
<g font-family="Liberation Sans, sans-serif" font-weight="bold" font-size="8.40" fill="#111" stroke="#111" stroke-width="0.22">
<text transform="translate(768.0 46.00) scale(1.130 1)" x="0" y="0">101.5</text>
<text transform="translate(768.0 68.89) scale(1.130 1)" x="0" y="0">101</text>
<text transform="translate(768.0 91.77) scale(1.130 1)" x="0" y="0">100.5</text>
<text transform="translate(768.0 114.66) scale(1.130 1)" x="0" y="0">100</text>
<text transform="translate(768.0 137.54) scale(1.130 1)" x="0" y="0">99.5</text>
<text transform="translate(768.0 160.43) scale(1.130 1)" x="0" y="0">99</text>
<text transform="translate(768.0 183.31) scale(1.130 1)" x="0" y="0">98.5</text>
<text transform="translate(768.0 206.20) scale(1.130 1)" x="0" y="0">98</text>
<text transform="translate(768.0 229.08) scale(1.130 1)" x="0" y="0">97.5</text>
<text transform="translate(768.0 251.97) scale(1.130 1)" x="0" y="0">97</text>
<text transform="translate(768.0 274.85) scale(1.130 1)" x="0" y="0">96.5</text>
<text transform="translate(768.0 297.74) scale(1.130 1)" x="0" y="0">96</text>
<text transform="translate(768.0 320.62) scale(1.130 1)" x="0" y="0">95.5</text>
<text transform="translate(768.0 343.50) scale(1.130 1)" x="0" y="0">95</text>
</g>
<g font-family="Liberation Sans, sans-serif" font-weight="bold" font-size="8.6" fill="#111" stroke="#111" stroke-width="0.22" text-anchor="end">
<text transform="translate(21.30 348) rotate(-90) scale(1.05 1)" x="0" y="3.0">30-Jun-25</text>
<text transform="translate(38.28 348) rotate(-90) scale(1.05 1)" x="0" y="3.0">04-Jul-25</text>
<text transform="translate(55.25 348) rotate(-90) scale(1.05 1)" x="0" y="3.0">10-Jul-25</text>
<text transform="translate(72.23 348) rotate(-90) scale(1.05 1)" x="0" y="3.0">16-Jul-25</text>
<text transform="translate(89.21 348) rotate(-90) scale(1.05 1)" x="0" y="3.0">22-Jul-25</text>
<text transform="translate(106.19 348) rotate(-90) scale(1.05 1)" x="0" y="3.0">28-Jul-25</text>
<text transform="translate(123.16 348) rotate(-90) scale(1.05 1)" x="0" y="3.0">01-Aug-25</text>
<text transform="translate(140.14 348) rotate(-90) scale(1.05 1)" x="0" y="3.0">07-Aug-25</text>
<text transform="translate(157.12 348) rotate(-90) scale(1.05 1)" x="0" y="3.0">13-Aug-25</text>
<text transform="translate(174.09 348) rotate(-90) scale(1.05 1)" x="0" y="3.0">19-Aug-25</text>
<text transform="translate(191.07 348) rotate(-90) scale(1.05 1)" x="0" y="3.0">25-Aug-25</text>
<text transform="translate(208.05 348) rotate(-90) scale(1.05 1)" x="0" y="3.0">29-Aug-25</text>
<text transform="translate(225.02 348) rotate(-90) scale(1.05 1)" x="0" y="3.0">04-Sep-25</text>
<text transform="translate(242.00 348) rotate(-90) scale(1.05 1)" x="0" y="3.0">10-Sep-25</text>
<text transform="translate(258.98 348) rotate(-90) scale(1.05 1)" x="0" y="3.0">16-Sep-25</text>
<text transform="translate(275.95 348) rotate(-90) scale(1.05 1)" x="0" y="3.0">22-Sep-25</text>
<text transform="translate(292.93 348) rotate(-90) scale(1.05 1)" x="0" y="3.0">26-Sep-25</text>
<text transform="translate(309.91 348) rotate(-90) scale(1.05 1)" x="0" y="3.0">02-Oct-25</text>
<text transform="translate(326.89 348) rotate(-90) scale(1.05 1)" x="0" y="3.0">08-Oct-25</text>
<text transform="translate(343.86 348) rotate(-90) scale(1.05 1)" x="0" y="3.0">14-Oct-25</text>
<text transform="translate(360.84 348) rotate(-90) scale(1.05 1)" x="0" y="3.0">20-Oct-25</text>
<text transform="translate(377.82 348) rotate(-90) scale(1.05 1)" x="0" y="3.0">24-Oct-25</text>
<text transform="translate(394.79 348) rotate(-90) scale(1.05 1)" x="0" y="3.0">30-Oct-25</text>
<text transform="translate(411.77 348) rotate(-90) scale(1.05 1)" x="0" y="3.0">05-Nov-25</text>
<text transform="translate(428.75 348) rotate(-90) scale(1.05 1)" x="0" y="3.0">11-Nov-25</text>
<text transform="translate(445.73 348) rotate(-90) scale(1.05 1)" x="0" y="3.0">17-Nov-25</text>
<text transform="translate(462.70 348) rotate(-90) scale(1.05 1)" x="0" y="3.0">21-Nov-25</text>
<text transform="translate(479.68 348) rotate(-90) scale(1.05 1)" x="0" y="3.0">27-Nov-25</text>
<text transform="translate(496.66 348) rotate(-90) scale(1.05 1)" x="0" y="3.0">03-Dec-25</text>
<text transform="translate(513.63 348) rotate(-90) scale(1.05 1)" x="0" y="3.0">09-Dec-25</text>
<text transform="translate(530.61 348) rotate(-90) scale(1.05 1)" x="0" y="3.0">15-Dec-25</text>
<text transform="translate(547.59 348) rotate(-90) scale(1.05 1)" x="0" y="3.0">19-Dec-25</text>
<text transform="translate(564.56 348) rotate(-90) scale(1.05 1)" x="0" y="3.0">25-Dec-25</text>
<text transform="translate(581.54 348) rotate(-90) scale(1.05 1)" x="0" y="3.0">31-Dec-25</text>
<text transform="translate(598.52 348) rotate(-90) scale(1.05 1)" x="0" y="3.0">06-Jan-26</text>
<text transform="translate(615.50 348) rotate(-90) scale(1.05 1)" x="0" y="3.0">12-Jan-26</text>
<text transform="translate(632.47 348) rotate(-90) scale(1.05 1)" x="0" y="3.0">16-Jan-26</text>
<text transform="translate(649.45 348) rotate(-90) scale(1.05 1)" x="0" y="3.0">22-Jan-26</text>
<text transform="translate(666.43 348) rotate(-90) scale(1.05 1)" x="0" y="3.0">28-Jan-26</text>
<text transform="translate(683.40 348) rotate(-90) scale(1.05 1)" x="0" y="3.0">03-Feb-26</text>
<text transform="translate(700.38 348) rotate(-90) scale(1.05 1)" x="0" y="3.0">09-Feb-26</text>
<text transform="translate(717.36 348) rotate(-90) scale(1.05 1)" x="0" y="3.0">13-Feb-26</text>
<text transform="translate(734.33 348) rotate(-90) scale(1.05 1)" x="0" y="3.0">19-Feb-26</text>
<text transform="translate(751.31 348) rotate(-90) scale(1.05 1)" x="0" y="3.0">25-Feb-26</text>
</g>
<text x="40.20" y="31.3" font-family="Liberation Sans, sans-serif" font-weight="bold" font-size="16.40" fill="#000" stroke="#000" stroke-width="0.55" textLength="37.76" lengthAdjust="spacingAndGlyphs">USD</text>
<text x="84.64" y="31.3" font-family="Liberation Sans, sans-serif" font-weight="bold" font-size="16.40" fill="#000" stroke="#000" stroke-width="0.55" textLength="49.71" lengthAdjust="spacingAndGlyphs">Index</text>
<text x="140.30" y="31.3" font-family="Liberation Sans, sans-serif" font-weight="bold" font-size="16.40" fill="#000" stroke="#000" stroke-width="0.55" textLength="45.12" lengthAdjust="spacingAndGlyphs">Daily</text>
<text x="192.28" y="31.3" font-family="Liberation Sans, sans-serif" font-weight="bold" font-size="16.40" fill="#000" stroke="#000" stroke-width="0.55" textLength="62.08" lengthAdjust="spacingAndGlyphs">Candle</text>
<rect x="363.6" y="13.5" width="323.3" height="19" fill="#fff" stroke="#555" stroke-width="1"/>
<line x1="363.6" y1="33.2" x2="686.9" y2="33.2" stroke="#888" stroke-width="0.8"/>
<text x="366.24" y="28.1" font-family="Liberation Sans, sans-serif" font-size="12.70" fill="#1a1a1a" textLength="62.10" lengthAdjust="spacingAndGlyphs">10-Feb-26</text>
<text x="442.48" y="28.1" font-family="Liberation Sans, sans-serif" font-size="12.70" fill="#1a1a1a" textLength="49.97" lengthAdjust="spacingAndGlyphs">96.9970</text>
<text x="506.53" y="28.1" font-family="Liberation Sans, sans-serif" font-size="12.70" fill="#1a1a1a" textLength="49.97" lengthAdjust="spacingAndGlyphs">97.0070</text>
<text x="570.58" y="28.1" font-family="Liberation Sans, sans-serif" font-size="12.70" fill="#1a1a1a" textLength="49.97" lengthAdjust="spacingAndGlyphs">96.9230</text>
<text x="634.63" y="28.1" font-family="Liberation Sans, sans-serif" font-size="12.70" fill="#1a1a1a" textLength="49.92" lengthAdjust="spacingAndGlyphs">96.9870</text>
<line x1="435.25" y1="18.9" x2="435.25" y2="30.3" stroke="#1a1a1a" stroke-width="1.15"/>
<line x1="499.40" y1="18.9" x2="499.40" y2="30.3" stroke="#1a1a1a" stroke-width="1.15"/>
<line x1="563.45" y1="18.9" x2="563.45" y2="30.3" stroke="#1a1a1a" stroke-width="1.15"/>
<line x1="627.50" y1="18.9" x2="627.50" y2="30.3" stroke="#1a1a1a" stroke-width="1.15"/>
</svg></body></html>
